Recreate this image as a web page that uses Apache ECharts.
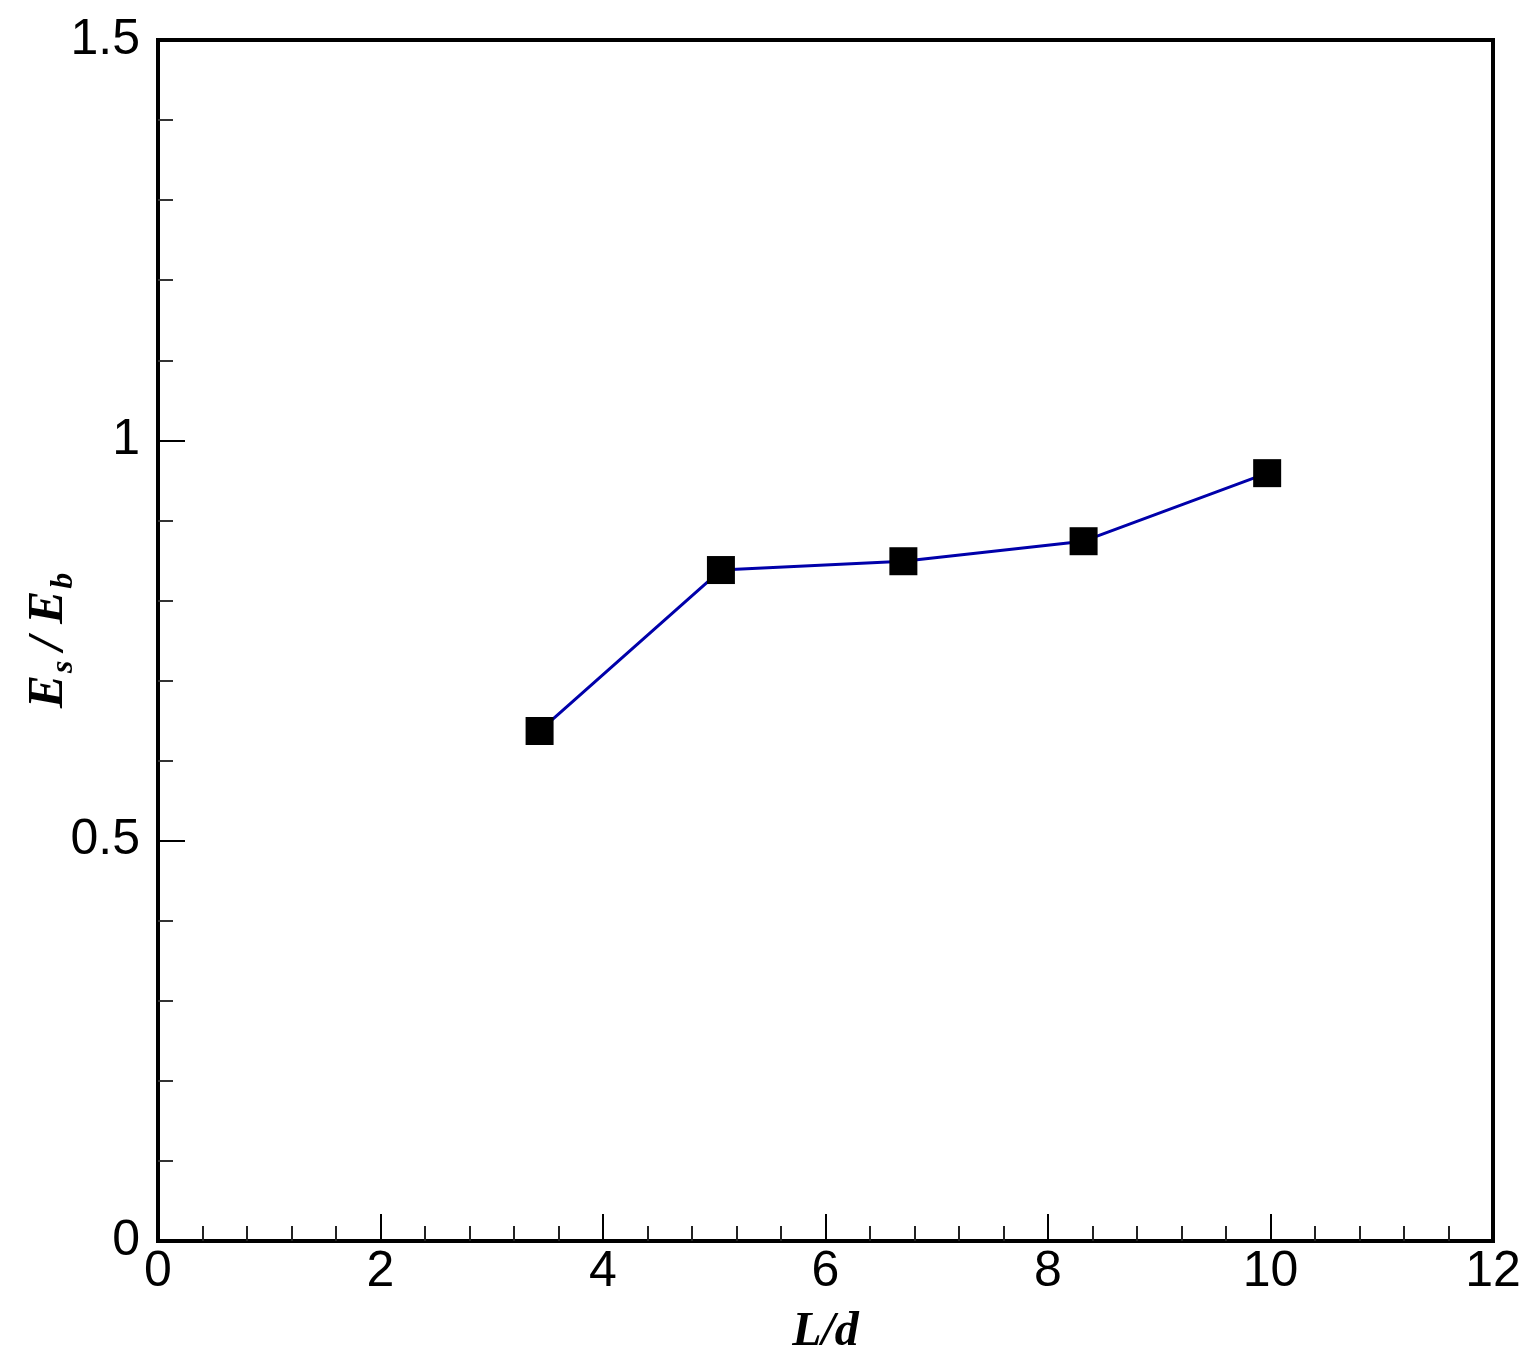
<!DOCTYPE html>
<html>
<head>
<meta charset="utf-8">
<script src="https://cdn.jsdelivr.net/npm/echarts@6/dist/echarts.min.js"></script>
<style>
  html, body { margin: 0; padding: 0; background: #fff; }
  #chart { width: 1536px; height: 1371px; }
</style>
</head>
<body>
<div id="chart"></div>
<script>
// L/d values and Es/Eb ratio
const ratioLd = [3.43, 5.06, 6.70, 8.32, 9.97]
const esEb = [0.637, 0.838, 0.849, 0.874, 0.959]

const chart = echarts.init(document.getElementById('chart'))

const tickFont = {
  color: '#000',
  fontFamily: 'Liberation Sans, Arial, sans-serif',
  fontSize: 50
}
const nameRich = {
  e: { fontFamily: 'Liberation Serif, Times New Roman, serif', fontStyle: 'italic', fontWeight: 'bold', fontSize: 50, color: '#000' },
  g: { fontFamily: 'Liberation Serif, Times New Roman, serif', fontStyle: 'italic', fontWeight: 'bold', fontSize: 50, color: '#000', padding: [0, 0, 0, 10] },
  s: { fontFamily: 'Liberation Serif, Times New Roman, serif', fontStyle: 'italic', fontWeight: 'bold', fontSize: 32, color: '#000', padding: [30, 0, 0, 2] }
}

const option = {
  animation: false,
  backgroundColor: '#fff',
  grid: {
    left: 158,
    right: 43,
    top: 40,
    bottom: 130,
    outerBoundsMode: 'none',
    show: true,
    borderColor: '#000',
    borderWidth: 4
  },
  xAxis: {
    type: 'value',
    min: 0,
    max: 12,
    interval: 2,
    name: 'L/d',
    nameLocation: 'middle',
    nameGap: 68,
    nameMoveOverlap: false,
    nameTextStyle: {
      fontFamily: 'Liberation Serif, Times New Roman, serif',
      fontStyle: 'italic',
      fontWeight: 'bold',
      fontSize: 48,
      color: '#000'
    },
    axisLine: { lineStyle: { color: '#000', width: 4 } },
    axisTick: { inside: true, length: 27, lineStyle: { color: '#000', width: 2 } },
    minorTick: { show: true, splitNumber: 5, length: 15, lineStyle: { color: '#222', width: 2 } },
    axisLabel: Object.assign({ margin: 6 }, tickFont),
    splitLine: { show: false }
  },
  yAxis: {
    type: 'value',
    min: 0,
    max: 1.5,
    interval: 0.5,
    name: '{e|E}{s|s}{g|/ E}{s|b}',
    nameLocation: 'middle',
    nameGap: 78,
    nameRotate: 90,
    nameMoveOverlap: false,
    nameTextStyle: { rich: nameRich },
    axisLine: { lineStyle: { color: '#000', width: 4 } },
    axisTick: { inside: true, length: 27, lineStyle: { color: '#000', width: 2 } },
    minorTick: { show: true, splitNumber: 5, length: 15, lineStyle: { color: '#333', width: 2 } },
    axisLabel: Object.assign({ margin: 18 }, tickFont),
    splitLine: { show: false }
  },
  series: [
    {
      type: 'line',
      data: ratioLd.map((x, i) => [x, esEb[i]]),
      symbol: 'rect',
      symbolSize: 28,
      itemStyle: { color: '#000' },
      lineStyle: { color: '#0000aa', width: 3 }
    }
  ]
}

chart.setOption(option)
</script>
</body>
</html>
